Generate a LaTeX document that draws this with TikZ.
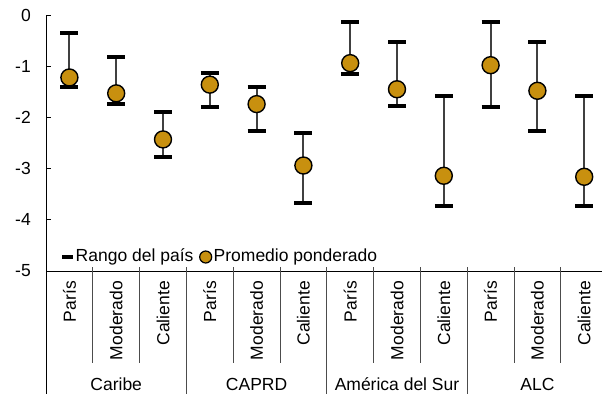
\documentclass[tikz,border=0pt]{standalone}
\usepackage{fontspec}
\setmainfont{Liberation Sans}
\definecolor{gold}{HTML}{C8900F}
\definecolor{barline}{HTML}{404040}
\begin{document}
\begin{tikzpicture}[x=1pt,y=-1pt,
  txt/.style={font=\fontsize{17.5}{20}\selectfont, inner sep=0pt},
  ytick/.style={txt, anchor=east},
  catlab/.style={txt, rotate=90, anchor=east},
  grplab/.style={txt, anchor=center},
  axis/.style={draw=black, line width=1pt},
  sep/.style={draw=black!70, line width=0.9pt},
  errline/.style={draw=barline, line width=2pt},
  errcap/.style={draw=black, line width=4pt},
  marker/.style={circle, fill=gold, draw=black, line width=1.4pt, minimum size=17pt, inner sep=0pt},
  legmarker/.style={circle, fill=gold, draw=black, line width=1.2pt, minimum size=12pt, inner sep=0pt}]
\useasboundingbox (0,0) rectangle (602,394);
% axes
\coordinate (ytop) at (46,15);
\coordinate (ybot) at (46,394);
\coordinate (xl) at (46,271);
\coordinate (xr) at (602,271);
\draw[axis] (ytop) -- (ybot);
\draw[axis] (xl) -- (xr);
% y ticks and labels
\foreach \v/\lab [count=\k] in {0/0,-1/-1,-2/-2,-3/-3,-4/-4,-5/-5}{
  \coordinate (yt\k) at (46,{15-51.2*(\v)});
  \coordinate (yu\k) at (51,{15-51.2*(\v)});
  \draw[axis] (yt\k) -- (yu\k);
  \node[ytick] (yl\k) at (31,{15-51.2*(\v)}) {\lab};
}
% separators
\foreach \k in {1,2,4,5,7,8,10,11}{
  \coordinate (sa\k) at ({46+46.8*\k},267);
  \coordinate (sb\k) at ({46+46.8*\k},363);
  \draw[sep] (sa\k) -- (sb\k);
}
\foreach \k in {3,6,9}{
  \coordinate (sa\k) at ({46+46.8*\k},267);
  \coordinate (sb\k) at ({46+46.8*\k},394);
  \draw[sep] (sa\k) -- (sb\k);
}
% data
\foreach \hi/\mid/\lo/\lab [count=\i] in {
  -0.35/-1.22/-1.40/París, -0.83/-1.53/-1.73/Moderado, -1.89/-2.43/-2.77/Caliente,
  -1.13/-1.36/-1.79/París, -1.40/-1.74/-2.26/Moderado, -2.30/-2.94/-3.68/Caliente,
  -0.14/-0.94/-1.15/París, -0.53/-1.45/-1.78/Moderado, -1.58/-3.14/-3.74/Caliente,
  -0.14/-0.98/-1.79/París, -0.53/-1.48/-2.26/Moderado, -1.58/-3.16/-3.74/Caliente}{
  \pgfmathsetmacro{\cx}{69.4+46.8*(\i-1)}
  \coordinate (t\i) at (\cx,{15-51.2*(\hi)});
  \coordinate (b\i) at (\cx,{15-51.2*(\lo)});
  \coordinate (tl\i) at ({\cx-9},{15-51.2*(\hi)});
  \coordinate (tr\i) at ({\cx+9},{15-51.2*(\hi)});
  \coordinate (bl\i) at ({\cx-9},{15-51.2*(\lo)});
  \coordinate (br\i) at ({\cx+9},{15-51.2*(\lo)});
  \draw[errline] (t\i) -- (b\i);
  \draw[errcap] (tl\i) -- (tr\i);
  \draw[errcap] (bl\i) -- (br\i);
  \node[marker] (m\i) at (\cx,{15-51.2*(\mid)}) {};
  \node[catlab] (c\i) at (\cx,281) {\lab};
}
% group labels
\node[grplab] (g1) at (116.2,384) {Caribe};
\node[grplab] (g2) at (256.6,384) {CAPRD};
\node[grplab] (g3) at (397.0,384) {América del Sur};
\node[grplab] (g4) at (537.4,384) {ALC};
% legend
\coordinate (la) at (62,257);
\coordinate (lb) at (73,257);
\draw[draw=black, line width=3.5pt] (la) -- (lb);
\node[txt, anchor=west] (lt1) at (75.5,257) {Rango del país};
\node[legmarker] (lm) at (205.7,257) {};
\node[txt, anchor=west] (lt2) at (213.5,257) {Promedio ponderado};
\end{tikzpicture}
\end{document}
